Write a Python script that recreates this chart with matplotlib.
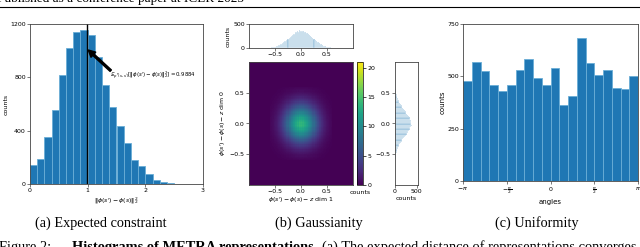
import numpy as np
import matplotlib
matplotlib.use("Agg")
import matplotlib.pyplot as plt
from matplotlib.lines import Line2D

# ---------------- data ----------------
# (a) histogram of ||phi(s')-phi(s)||^2, bins of width 0.125 starting at 0
dist_counts = [140, 187, 350, 552, 820, 1017, 1140, 1152, 1117, 950, 742, 577,
               436, 311, 178, 135, 78, 33, 15, 8, 3]
dist_binwidth = 0.125
dist_mean = 0.9884

# (b) marginal histograms (bins of 0.02 from -0.6 to 0.6)
marg_x_counts = [10, 13, 17, 19, 26, 31, 36, 44, 55, 63, 77, 86, 104, 116, 136,
                 149, 174, 186, 213, 226, 254, 266, 292, 301, 325, 330, 349, 342, 365, 358,
                 361, 352, 356, 338, 331, 316, 309, 284, 272, 252, 233, 207, 194, 168, 155,
                 131, 121, 99, 90, 73, 66, 52, 45, 38, 29, 24, 21, 15, 12, 9]
marg_y_counts = [9, 12, 16, 21, 24, 32, 38, 46, 53, 66, 75, 90, 101, 121, 133,
                 152, 170, 192, 209, 232, 250, 273, 289, 311, 327, 345, 356, 372, 381, 376,
                 379, 368, 360, 344, 336, 315, 301, 281, 262, 245, 224, 207, 186, 167, 151,
                 134, 117, 103, 88, 77, 64, 55, 44, 37, 30, 24, 19, 15, 11, 8]
marg_lo, marg_hi = -0.6, 0.6

# (c) histogram of angles, 20 bins over [-pi, pi]
angle_counts = [479, 568, 524, 459, 432, 459, 529, 584, 490, 459,
                540, 363, 406, 682, 562, 508, 530, 444, 438, 503]
angle_ticks = [-np.pi, -np.pi / 2, 0, np.pi / 2, np.pi]
angle_ticklabels = [r'$-\pi$', r'$-\frac{\pi}{2}$', r'$0$', r'$\frac{\pi}{2}$', r'$\pi$']

header_text = "Published as a conference paper at ICLR 2025"
subcaptions = ["(a) Expected constraint", "(b) Gaussianity", "(c) Uniformity"]
caption_label = "Figure 2:"
caption_bold = "Histograms of METRA representations."
caption_rest = "(a) The expected distance of representations converges"

# ---------------- style ----------------
W, H = 640, 247
fig = plt.figure(figsize=(W / 100, H / 100), dpi=100)
BLUE = '#1f77b4'
LIGHT = '#8fbbd9'
TFS = 4.5
SPC = '#444444'


def px_axes(x0, y0, x1, y1):
    return fig.add_axes([x0 / W, 1 - y1 / H, (x1 - x0) / W, (y1 - y0) / H])


def style(ax):
    for s in ax.spines.values():
        s.set_color(SPC)
        s.set_linewidth(0.6)
    ax.tick_params(labelsize=TFS, length=2, width=0.5, pad=1, color=SPC)


# ---------------- (a) ----------------
ax1 = px_axes(30, 24, 203, 184)
style(ax1)
lefts = np.arange(len(dist_counts)) * dist_binwidth
ax1.bar(lefts, dist_counts, width=dist_binwidth, align='edge', color=BLUE,
        edgecolor='#6aaed6', linewidth=0.6)
ax1.axvline(dist_mean, color='black', lw=1.0)
ax1.set_xlim(0, 3)
ax1.set_ylim(0, 1200)
ax1.set_xticks([0, 1, 2, 3])
ax1.set_yticks([0, 400, 800, 1200])
ax1.set_ylabel('counts', fontsize=TFS, labelpad=1)
ax1.set_xlabel(r'$\|\phi(s^\prime)-\phi(s)\|_2^2$', fontsize=TFS, labelpad=2)
ax1.annotate('', xy=(1.01, 1005), xytext=(1.40, 850),
             arrowprops=dict(facecolor='black', edgecolor='black', width=1.4,
                             headwidth=5, headlength=5, shrink=0))
ax1.text(1.38, 817, r'$\mathbb{E}_{p^\pi(s,s^\prime)}[\|\phi(s^\prime)-\phi(s)\|_2^2] = %.4f$' % dist_mean,
         fontsize=3.9, va='center', ha='left')

# ---------------- (b) ----------------
edges = np.linspace(marg_lo, marg_hi, len(marg_x_counts) + 1)
mx = np.array(marg_x_counts, dtype=float)
my = np.array(marg_y_counts, dtype=float)
grid = np.outer(my, mx) / mx.sum()

axm = px_axes(249, 62, 353, 185)
style(axm)
axm.set_facecolor(plt.get_cmap('viridis')(0.0))
mesh = axm.pcolormesh(edges, edges, grid, cmap='viridis', vmin=0, vmax=21)
axm.set_xlim(-1, 1)
axm.set_ylim(-1, 1)
axm.set_xticks([-0.5, 0.0, 0.5])
axm.set_yticks([-0.5, 0.0, 0.5])
axm.set_xlabel(r'$\phi(s^\prime)-\phi(s)-z$ dim 1', fontsize=TFS, labelpad=1)
axm.set_ylabel(r'$\phi(s^\prime)-\phi(s)-z$ dim 0', fontsize=TFS, labelpad=1)

axt = px_axes(249, 24, 353, 48)
style(axt)
axt.bar(edges[:-1], marg_x_counts, width=np.diff(edges), align='edge',
        color=LIGHT, edgecolor='white', linewidth=0.3)
axt.set_xlim(-1, 1)
axt.set_ylim(0, 500)
axt.set_xticks([-0.5, 0.0, 0.5])
axt.set_yticks([0, 500])
axt.set_ylabel('counts', fontsize=TFS, labelpad=2)

cax = px_axes(357, 62, 363, 185)
cb = fig.colorbar(mesh, cax=cax)
cb.set_ticks([0, 5, 10, 15, 20])
cb.outline.set_linewidth(0.5)
cax.tick_params(labelsize=TFS, length=2, width=0.5, pad=1)
cax.set_xlabel('counts', fontsize=TFS, labelpad=3.5)

axr = px_axes(395, 62, 418, 185)
style(axr)
axr.barh(edges[:-1], marg_y_counts, height=np.diff(edges), align='edge',
         color=LIGHT, edgecolor='white', linewidth=0.3)
axr.set_ylim(-1, 1)
axr.set_xlim(0, 530)
axr.set_xticks([0, 500])
axr.set_yticks([-0.5, 0.0, 0.5])
axr.set_xlabel('counts', fontsize=TFS, labelpad=1)

# ---------------- (c) ----------------
ax3 = px_axes(463, 24, 638, 181)
style(ax3)
aedges = np.linspace(-np.pi, np.pi, len(angle_counts) + 1)
ax3.bar(aedges[:-1], angle_counts, width=np.diff(aedges), align='edge', color=BLUE,
        edgecolor='#6aaed6', linewidth=0.6)
ax3.set_xlim(-np.pi, np.pi)
ax3.set_ylim(0, 750)
ax3.set_yticks([0, 250, 500, 750])
ax3.set_xticks(angle_ticks)
ax3.set_xticklabels(angle_ticklabels)
ax3.set_xlabel('angles', fontsize=TFS + 0.5, labelpad=2)
ax3.set_ylabel('counts', fontsize=TFS + 0.5, labelpad=1)

# ---------------- page text ----------------
SERIF = ['Liberation Serif', 'DejaVu Serif']
renderer = fig.canvas.get_renderer()


def fit_text(x_px, y_frac, s, target_w, weight='normal', base=10.0, **kw):
    t = fig.text(x_px / W, y_frac, s, fontsize=base, family=SERIF, weight=weight, **kw)
    w0 = t.get_window_extent(renderer=renderer).width
    t.set_fontsize(base * target_w / w0)
    return t


# header: only its lower part is visible at the top edge
fit_text(-3, 1 - 2.0 / H, header_text, 246, va='baseline', ha='left')
fig.add_artist(Line2D([0, 1], [1 - 7 / H, 1 - 7 / H], transform=fig.transFigure,
                      color='black', lw=0.8))
for cx, t in zip([101, 319, 537], subcaptions):
    fig.text(cx / W, 1 - 223 / H, t, fontsize=10.3, family=SERIF, ha='center', va='center')

# bottom caption (cut at the bottom edge)
cap_y = 1 - 250.5 / H
tb = fit_text(72, cap_y, caption_bold, 245, weight='bold', va='baseline', ha='left')
cfs = tb.get_fontsize()
tl = fig.text(-1 / W, cap_y, caption_label, fontsize=cfs, family=SERIF, va='baseline', ha='left')
tr = fig.text(322 / W, cap_y, caption_rest, fontsize=cfs, family=SERIF, va='baseline', ha='left')

fig.savefig('out.png', dpi=100)
